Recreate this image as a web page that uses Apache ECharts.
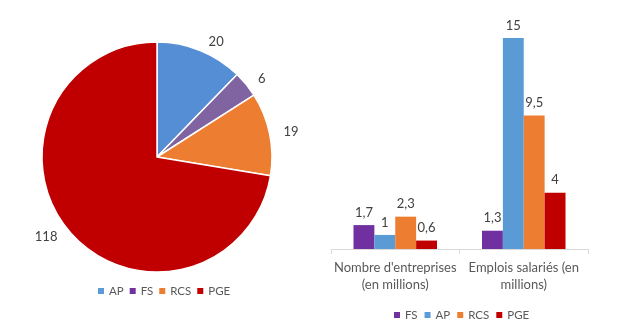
<!DOCTYPE html>
<html><head><meta charset="utf-8">
<script src="https://cdn.jsdelivr.net/npm/echarts@6/dist/echarts.min.js"></script>
<style>html,body{margin:0;padding:0;background:#fff}#c{width:617px;height:336px}</style>
</head><body><div id="c"></div>
<script>
const pieCategories = ['AP', 'FS', 'RCS', 'PGE'];
const pieValues = [20, 6, 19, 118];
const pieColors = ['#558ED5', '#8064A2', '#ED7D31', '#C00000'];

const barCategories = ["Nombre d'entreprises\n(en millions)", "Emplois salariés (en\nmillions)"];
const barSeriesNames = ['FS', 'AP', 'RCS', 'PGE'];
const barFS = [1.7, 1.3];
const barAP = [1, 15];
const barRCS = [2.3, 9.5];
const barPGE = [0.6, 4];
const barColors = ['#7030A0', '#5B9BD5', '#ED7D31', '#C00000'];

const FONT = 'Lato';
const fmtComma = v => String(v).replace('.', ',');

const chart = echarts.init(document.getElementById('c'), null, {renderer: 'canvas'});
const barData = [barFS, barAP, barRCS, barPGE];

chart.setOption({
  animation: false,
  textStyle: {fontFamily: FONT},
  legend: [
    {
      data: pieCategories, left: 93, top: 280, itemWidth: 6, itemHeight: 6, itemGap: 6,
      icon: 'rect', textStyle: {color: '#595959', fontSize: 11.5, fontFamily: FONT}
    },
    {
      data: barSeriesNames, left: 389, top: 304, itemWidth: 6, itemHeight: 6, itemGap: 7,
      icon: 'rect', textStyle: {color: '#595959', fontSize: 11.5, fontFamily: FONT}
    }
  ],
  grid: {left: 331, right: 29, top: 24, bottom: 87},
  xAxis: {
    type: 'category', data: barCategories,
    axisLine: {lineStyle: {color: '#D9D9D9'}},
    axisTick: {show: true, alignWithLabel: false, length: 5, lineStyle: {color: '#D9D9D9'}},
    axisLabel: {color: '#595959', fontSize: 13, fontFamily: FONT, lineHeight: 17, margin: 10, interval: 0}
  },
  yAxis: {type: 'value', min: 0, max: 16, show: false, splitLine: {show: false}},
  series: [
    {
      type: 'pie', center: [157, 157], radius: 115, startAngle: 90, clockwise: true,
      data: pieCategories.map((n, i) => ({name: n, value: pieValues[i], itemStyle: {color: pieColors[i]}})),
      itemStyle: {borderColor: '#fff', borderWidth: 1.5},
      label: {show: true, position: 'outside', color: '#404040', fontSize: 13, fontFamily: FONT, formatter: '{c}'},
      labelLine: {show: false, length: 9, length2: 0},
      legendHoverLink: false
    },
    ...barSeriesNames.map((n, i) => ({
      type: 'bar', name: n, data: barData[i], barGap: '0%', barCategoryGap: '35%',
      itemStyle: {color: barColors[i]},
      label: {show: true, position: 'top', color: '#404040', fontSize: 13, fontFamily: FONT,
        distance: 6, formatter: p => fmtComma(p.value)}
    }))
  ]
});
</script></body></html>
